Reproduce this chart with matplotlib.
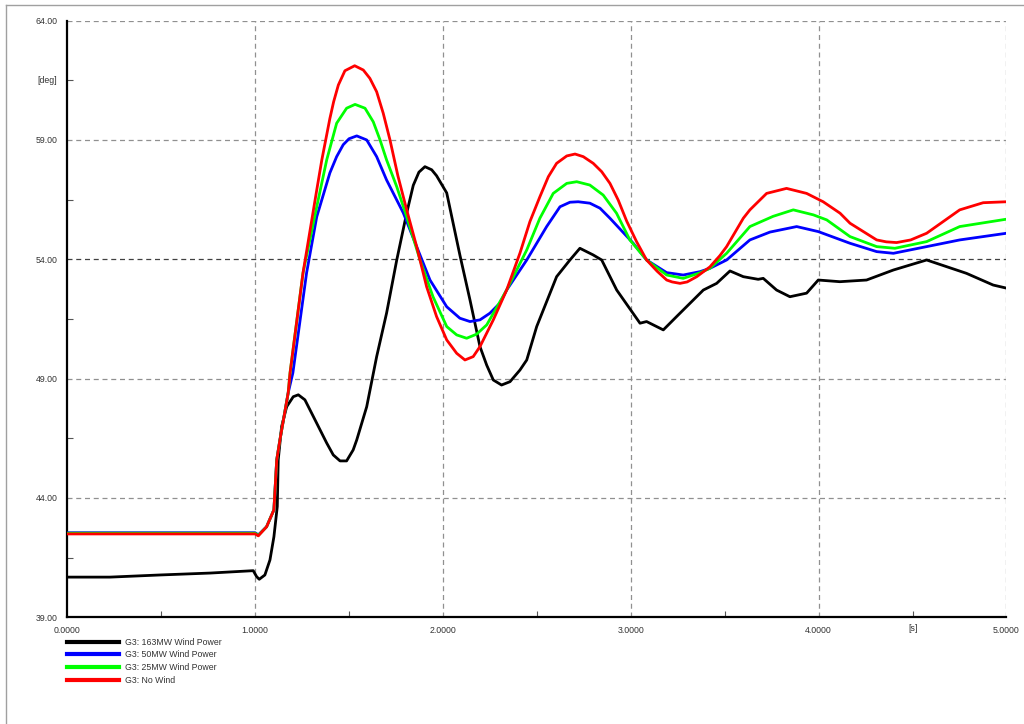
import matplotlib
matplotlib.use('Agg')
import matplotlib.pyplot as plt
from matplotlib.lines import Line2D

plt.rcParams['font.family'] = ['Liberation Sans', 'DejaVu Sans']

# rotor angle traces, [s] / [deg]
t_black = [0.0, 0.227, 0.493, 0.760, 0.990, 1.008, 1.022, 1.052, 1.079, 1.100,
           1.118, 1.123, 1.141, 1.168, 1.203, 1.230, 1.265, 1.310, 1.381, 1.416,
           1.452, 1.487, 1.522, 1.541, 1.594, 1.647, 1.700, 1.754, 1.807, 1.842,
           1.872, 1.904, 1.940, 1.966, 2.020, 2.090, 2.144, 2.197, 2.233, 2.268,
           2.312, 2.357, 2.410, 2.446, 2.499, 2.605, 2.676, 2.729, 2.800, 2.845,
           2.925, 3.049, 3.084, 3.173, 3.244, 3.386, 3.457, 3.528, 3.599, 3.678,
           3.705, 3.776, 3.847, 3.936, 3.998, 4.113, 4.255, 4.398, 4.575, 4.681,
           4.787, 4.929, 5.0]
y_black = [40.68, 40.68, 40.77, 40.85, 40.95, 40.70, 40.59, 40.77, 41.40, 42.37,
           43.64, 45.59, 46.99, 47.82, 48.24, 48.32, 48.11, 47.41, 46.30, 45.80,
           45.55, 45.55, 46.01, 46.43, 47.82, 49.92, 51.75, 53.97, 55.94, 57.10,
           57.65, 57.88, 57.75, 57.50, 56.78, 54.18, 52.29, 50.34, 49.56, 48.94,
           48.73, 48.87, 49.36, 49.78, 51.18, 53.27, 53.97, 54.46, 54.18, 53.97,
           52.71, 51.32, 51.39, 51.04, 51.60, 52.71, 52.99, 53.51, 53.27, 53.16,
           53.20, 52.71, 52.43, 52.58, 53.13, 53.06, 53.13, 53.55, 53.97, 53.69,
           53.41, 52.92, 52.79]

t_red = [0.0, 1.0, 1.017, 1.061, 1.100, 1.115, 1.132, 1.176, 1.186, 1.255,
         1.328, 1.355, 1.398, 1.418, 1.443, 1.478, 1.530, 1.576, 1.611, 1.647,
         1.682, 1.718, 1.760, 1.807, 1.860, 1.913, 1.966, 2.020, 2.073, 2.117,
         2.161, 2.197, 2.268, 2.339, 2.410, 2.463, 2.516, 2.561, 2.605, 2.659,
         2.703, 2.747, 2.800, 2.845, 2.889, 2.933, 2.978, 3.030, 3.084, 3.140,
         3.191, 3.220, 3.262, 3.300, 3.351, 3.421, 3.474, 3.510, 3.599, 3.634,
         3.723, 3.829, 3.936, 4.024, 4.114, 4.167, 4.309, 4.360, 4.415, 4.490,
         4.575, 4.751, 4.876, 5.0]
y_red = [42.49, 42.49, 42.41, 42.79, 43.50, 45.59, 46.43, 48.40, 49.24, 53.43,
         56.90, 58.16, 59.90, 60.60, 61.30, 61.90, 62.11, 61.93, 61.58, 61.02,
         60.12, 59.00, 57.50, 56.07, 54.53, 52.85, 51.60, 50.62, 50.06, 49.78,
         49.92, 50.34, 51.46, 52.71, 54.26, 55.58, 56.62, 57.46, 58.02, 58.33,
         58.41, 58.30, 58.02, 57.67, 57.18, 56.48, 55.60, 54.75, 53.97, 53.50,
         53.13, 53.05, 52.99, 53.05, 53.27, 53.68, 54.15, 54.53, 55.72, 56.07,
         56.76, 56.97, 56.76, 56.41, 55.93, 55.51, 54.81, 54.73, 54.70, 54.81,
         55.09, 56.07, 56.37, 56.41]

t_green = [0.0, 1.0, 1.017, 1.061, 1.100, 1.115, 1.132, 1.176, 1.186, 1.255,
           1.328, 1.381, 1.434, 1.487, 1.532, 1.585, 1.629, 1.665, 1.700, 1.754,
           1.807, 1.878, 1.947, 2.020, 2.073, 2.126, 2.179, 2.233, 2.339, 2.446,
           2.516, 2.587, 2.659, 2.712, 2.782, 2.853, 2.924, 2.995, 3.084, 3.191,
           3.279, 3.368, 3.421, 3.510, 3.634, 3.758, 3.865, 3.972, 4.043, 4.167,
           4.309, 4.406, 4.575, 4.751, 5.0]
y_green = [42.52, 42.52, 42.43, 42.79, 43.50, 45.59, 46.43, 48.40, 49.24, 53.43,
           56.20, 58.16, 59.70, 60.33, 60.49, 60.33, 59.76, 59.00, 58.16, 57.04,
           55.78, 53.97, 52.43, 51.18, 50.83, 50.69, 50.86, 51.25, 52.71, 54.39,
           55.72, 56.76, 57.18, 57.25, 57.11, 56.69, 55.93, 54.81, 53.97, 53.34,
           53.20, 53.43, 53.62, 54.25, 55.37, 55.80, 56.07, 55.86, 55.65, 54.95,
           54.53, 54.46, 54.74, 55.37, 55.68]

t_blue = [0.0, 1.0, 1.017, 1.061, 1.100, 1.115, 1.132, 1.176, 1.201, 1.274,
          1.328, 1.398, 1.434, 1.469, 1.500, 1.541, 1.594, 1.647, 1.700, 1.789,
          1.860, 1.931, 2.020, 2.090, 2.144, 2.197, 2.250, 2.303, 2.339, 2.446,
          2.552, 2.623, 2.676, 2.720, 2.782, 2.836, 2.889, 3.013, 3.084, 3.191,
          3.279, 3.368, 3.421, 3.510, 3.634, 3.741, 3.883, 3.998, 4.167, 4.309,
          4.398, 4.575, 4.751, 5.0]
y_blue = [42.54, 42.54, 42.45, 42.79, 43.50, 45.59, 46.43, 48.40, 49.24, 53.43,
          55.78, 57.62, 58.30, 58.80, 59.05, 59.17, 59.00, 58.30, 57.32, 55.94,
          54.53, 53.13, 52.01, 51.53, 51.39, 51.46, 51.74, 52.16, 52.71, 53.97,
          55.37, 56.20, 56.39, 56.41, 56.35, 56.14, 55.72, 54.67, 53.97, 53.44,
          53.34, 53.48, 53.62, 53.97, 54.81, 55.14, 55.37, 55.16, 54.67, 54.32,
          54.25, 54.53, 54.81, 55.09]

labels = ['G3: 163MW Wind Power', 'G3: 50MW Wind Power',
          'G3: 25MW Wind Power', 'G3: No Wind']

fs = 6.3
txt_col = '#333333'

fig = plt.figure(figsize=(10.24, 7.24), dpi=100)
ax = fig.add_axes([0.0657, 0.1475, 0.9172, 0.8240])

ax.plot(t_black, y_black, color='#000000', lw=2.0, label=labels[0], zorder=3)
ax.plot(t_blue, y_blue, color='#0000ff', lw=2.0, label=labels[1], zorder=4)
ax.plot(t_green, y_green, color='#00ff00', lw=2.0, label=labels[2], zorder=5)
ax.plot(t_red, y_red, color='#ff0000', lw=2.0, label=labels[3], zorder=6)

ax.set_xlim(0, 5)
ax.set_ylim(39, 64)

# grid
for xv in [1, 2, 3, 4, 5]:
    ax.axvline(xv, color='#909090', lw=0.9, ls=(0, (4, 3)), zorder=1)
for yv in [44, 49, 59, 64]:
    ax.axhline(yv, color='#909090', lw=0.9, ls=(0, (4, 3)), zorder=1)
ax.axhline(54, color='#404040', lw=0.9, ls=(0, (4, 3)), zorder=1)

for s in ['top', 'right']:
    ax.spines[s].set_visible(False)
for s in ['left', 'bottom']:
    ax.spines[s].set_linewidth(1.6)
    ax.spines[s].set_color('black')

ax.set_xticks([0, 1, 2, 3, 4, 5])
ax.set_xticklabels(['0.0000', '1.0000', '2.0000', '3.0000', '4.0000', '5.0000'])
ax.set_yticks([39, 44, 49, 54, 59, 64])
ax.set_yticklabels(['39.00', '44.00', '49.00', '54.00', '59.00', '64.00'])
ax.tick_params(axis='both', which='major', length=0, labelsize=fs, labelcolor=txt_col)
ax.tick_params(axis='x', pad=6)
ax.tick_params(axis='y', pad=7)

ax.set_xticks([0.5, 1.5, 2.5, 3.5, 4.5], minor=True)
ax.set_yticks([41.5, 46.5, 51.5, 56.5, 61.5], minor=True)
ax.tick_params(which='minor', direction='in', length=4, width=0.8, color='#555555')

# unit labels at the half ticks
ax.text(-0.053, 61.5, '[deg]', ha='right', va='center', fontsize=fs, color=txt_col)
ax.text(4.5, 38.54, '[s]', ha='center', va='center', fontsize=fs, color=txt_col)

leg = ax.legend(loc='upper left', bbox_to_anchor=(0.0652, 0.1193),
                bbox_transform=fig.transFigure, frameon=False, fontsize=fs,
                handlelength=6.0, handletextpad=0.7, labelspacing=0.42,
                borderpad=0, borderaxespad=0)
for h in leg.get_lines():
    h.set_linewidth(3.0)
for tx in leg.get_texts():
    tx.set_color(txt_col)

# page frame
fig.add_artist(Line2D([6 / 1024, 1], [1 - 4.5 / 724, 1 - 4.5 / 724],
                      transform=fig.transFigure, color='#a0a0a0', lw=1))
fig.add_artist(Line2D([6 / 1024, 6 / 1024], [0, 1 - 4.5 / 724],
                      transform=fig.transFigure, color='#a0a0a0', lw=1))

fig.savefig('out.png', dpi=100)
